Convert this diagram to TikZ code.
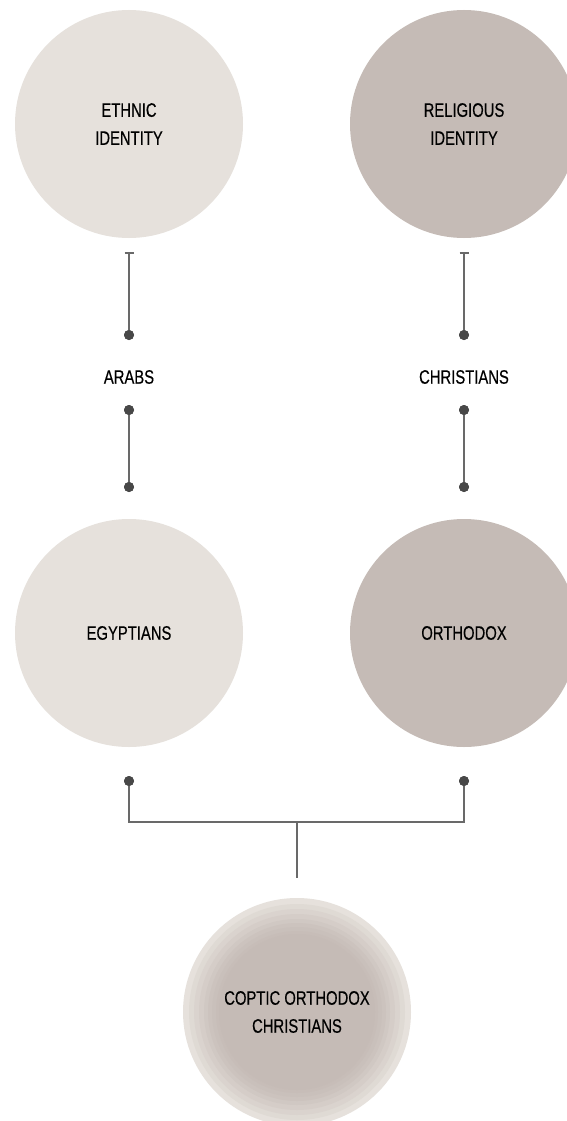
\documentclass[tikz,border=0pt]{standalone}
\usepackage{fontspec}
\setmainfont{Liberation Sans}[FakeStretch=0.76,FakeBold=0.4]
\usetikzlibrary{arrows.meta}
\definecolor{lightc}{RGB}{230,225,220}
\definecolor{darkc}{RGB}{197,187,182}
\definecolor{linec}{RGB}{105,105,105}
\definecolor{dotc}{RGB}{72,72,72}
\begin{document}
\begin{tikzpicture}[x=1pt,y=-1pt,
  bubble/.style={circle,minimum size=228pt,inner sep=0pt,align=center,font=\fontsize{19.5}{28}\selectfont,text=black},
  lbl/.style={inner sep=0pt,font=\fontsize{19.5}{28}\selectfont,text=black},
  pin/.style={circle,fill=dotc,minimum size=10pt,inner sep=0pt},
  conn/.style={draw=linec,line width=1.5pt}
]
\useasboundingbox (0,0) rectangle (567,1121);
\clip (0,0) rectangle (567,1121);
\fill[white] (0,0) rectangle (567,1121);
% circles
\node[bubble,fill=lightc] (eth) at (129,124) {ETHNIC\\IDENTITY};
\node[bubble,fill=darkc] (rel) at (464,124) {RELIGIOUS\\IDENTITY};
\node[bubble,fill=lightc] (egy) at (129,633) {EGYPTIANS};
\node[bubble,fill=darkc] (ort) at (464,633) {ORTHODOX};
% bottom concentric circle
\foreach \r/\p in {114/0,108/20,103/38,98/52,93/66,89/78,85/88,81/95,78/100}{
  \fill[darkc!\p!lightc] (297,1012) circle[radius=\r];
}
\node[bubble,minimum size=156pt] (cop) at (297,1012) {COPTIC ORTHODOX\\CHRISTIANS};
% labels
\node[lbl] (arabs) at (129,377) {ARABS};
\node[lbl] (chr) at (464,377) {CHRISTIANS};
% connector points
\coordinate (t1) at (129,252);
\coordinate (t2) at (464,252);
\node[pin] (d1) at (129,335) {};
\node[pin] (d2) at (464,335) {};
\node[pin] (d3) at (129,410) {};
\node[pin] (d4) at (464,410) {};
\node[pin] (d5) at (129,487) {};
\node[pin] (d6) at (464,487) {};
\node[pin] (d7) at (129,781) {};
\node[pin] (d8) at (464,781) {};
\coordinate (j) at (297,822);
\coordinate (jb) at (297,878);
% connectors
\draw[conn,{Bar[width=9pt,line width=1.5pt]}-] (t1) -- (d1.center);
\draw[conn,{Bar[width=9pt,line width=1.5pt]}-] (t2) -- (d2.center);
\draw[conn] (d3.center) -- (d5.center);
\draw[conn] (d4.center) -- (d6.center);
\draw[conn] (d7.center) |- (j) -| (d8.center);
\draw[conn] (j) -- (jb);
% redraw dots on top
\foreach \d in {d1,d2,d3,d4,d5,d6,d7,d8}{\fill[dotc] (\d) circle[radius=5pt];}
\end{tikzpicture}
\end{document}
